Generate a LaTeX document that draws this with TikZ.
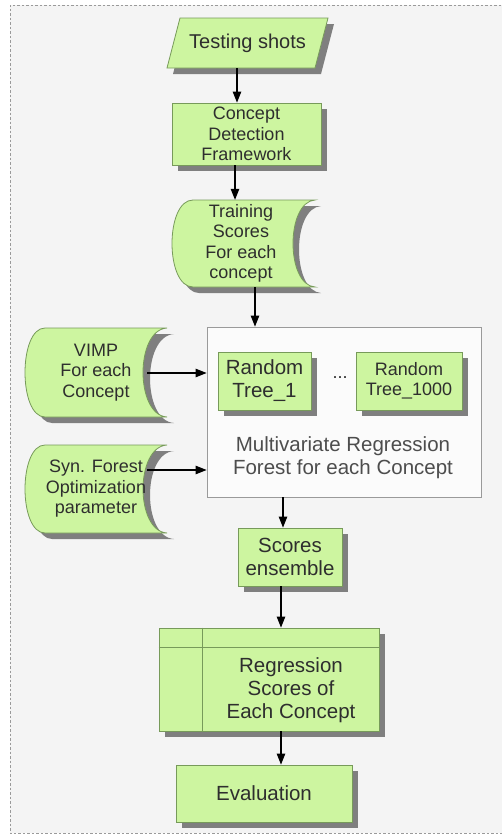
\documentclass[tikz,border=0pt]{standalone}
\usepackage{fontspec}
\setmainfont{Liberation Sans}
\usetikzlibrary{arrows.meta,shadows}
\definecolor{bgc}{HTML}{F4F4F4}
\definecolor{gfill}{HTML}{CDF5A0}
\definecolor{gdraw}{HTML}{779A5A}
\definecolor{shc}{HTML}{7F7F7F}
\definecolor{txt}{HTML}{2E2E2E}
\definecolor{fbord}{HTML}{9A9A9A}
\newcommand\storedshape[6]{%
  (#1+#5,#2) -- (#3,#2) .. controls (#3-1.333*#6,#2+2) and (#3-1.333*#6,#4-2) .. (#3,#4)
  -- (#1+#5,#4) .. controls (#1-0.333*#5,#4) and (#1-0.333*#5,#2) .. (#1+#5,#2) -- cycle}
\tikzset{
  big/.style={font=\fontsize{20.5}{23}\selectfont},
  small/.style={font=\fontsize{18}{20.5}\selectfont},
  txtnode/.style={text=txt, align=center, inner sep=0pt},
  gbox/.style={draw=gdraw, fill=gfill, line width=0.8pt, inner sep=0pt, text=txt, align=center,
    drop shadow={opacity=1, fill=shc, shadow xshift=6pt, shadow yshift=-6pt}},
  arr/.style={-{Triangle[length=11pt,width=8.5pt]}, line width=1.1pt, black},
  gshape/.style={draw=gdraw, fill=gfill, line width=0.8pt},
}
\begin{document}
\begin{tikzpicture}[x=1pt,y=-1pt]
\useasboundingbox (0,0) rectangle (502,835);
\fill[white] (0,0) rectangle (502,835);
\fill[bgc] (10,5) rectangle (510,833);
\draw[fbord, dash pattern=on 2.5pt off 2pt, line width=0.8pt] (510,5) -- (10,5) -- (10,833) -- (510,833);

% Testing shots (parallelogram)
\fill[shc] (180+6,18+6) -- (328+6,18+6) -- (315+6,68+6) -- (167+6,68+6) -- cycle;
\draw[gshape] (180,18) -- (328,18) -- (315,68) -- (167,68) -- cycle;
\node[txtnode, font=\fontsize{20}{23}\selectfont, minimum width=161pt, minimum height=50pt] (test) at (247.5,43) {Testing shots};

% Concept Detection Framework
\node[gbox, small, minimum width=149pt, minimum height=62pt] (cdf) at (246.5,134) {Concept\\Detection\\Framework};

% Training scores (stored data)
\fill[shc] \storedshape{172+6}{200+6}{315+6}{287+6}{21}{22};
\draw[gshape] \storedshape{172}{200}{315}{287}{21}{22};
\node[txtnode, small, minimum width=138pt, minimum height=87pt] (ts) at (241,243.5) {Training\\Scores\\For each\\concept};

% VIMP
\fill[shc] \storedshape{25+7}{328+6}{167+7}{417+6}{20}{24};
\draw[gshape] \storedshape{25}{328}{167}{417}{20}{24};
\node[txtnode, small, minimum width=142pt, minimum height=89pt] (vimp) at (96,372.5) {VIMP\\For each\\Concept};

% Syn forest
\fill[shc] \storedshape{25+7}{445+6}{167+7}{533+6}{20}{24};
\draw[gshape] \storedshape{25}{445}{167}{533}{20}{24};
\node[txtnode, small, minimum width=142pt, minimum height=88pt] (syn) at (96,489) {Syn. Forest\\Optimization\\parameter};

% Forest container
\node[draw=fbord, fill=white!60!bgc, line width=0.8pt, minimum width=274pt, minimum height=170pt, inner sep=0pt] (forest) at (344,412) {};
\node[gbox, big, minimum width=93pt, minimum height=58pt] (rt1) at (264.5,381) {Random\\Tree\_1};
\node[gbox, small, minimum width=106pt, minimum height=58pt] (rt2) at (409,381) {Random\\Tree\_1000};
\node[txtnode, small] (dots) at (340,378) {...};
\node[txtnode, big, text=txt!85!white] (ml) at (343,458) {Multivariate Regression\\Forest for each Concept};

% Scores ensemble
\node[gbox, big, minimum width=104pt, minimum height=58pt] (se) at (290,557) {Scores\\ensemble};

% Regression scores
\node[gbox, minimum width=220pt, minimum height=103pt] (reg) at (269,679.5) {};
\draw[gdraw, line width=0.8pt] ([xshift=44pt]reg.north west) -- ([xshift=44pt]reg.south west);
\draw[gdraw, line width=0.8pt] ([yshift=-20pt]reg.north west) -- ([yshift=-20pt]reg.north east);
\node[txtnode, big] (regt) at (291,690) {Regression\\Scores of\\Each Concept};

% Evaluation
\node[gbox, big, minimum width=176pt, minimum height=57pt] (eval) at (264,793.5) {Evaluation};

% connectors
\coordinate (a1) at (237,68);
\draw[arr] (a1) -- (a1 |- cdf.north);
\coordinate (a2) at (235,165);
\draw[arr] (a2) -- (a2 |- ts.north);
\coordinate (a3) at (255,287);
\draw[arr] (a3) -- (a3 |- forest.north);
\coordinate (a4) at (147,373);
\draw[arr] (a4) -- (a4 -| forest.west);
\coordinate (a5) at (147,470);
\draw[arr] (a5) -- (a5 -| forest.west);
\coordinate (a6) at (283,497);
\draw[arr] (a6) -- (a6 |- se.north);
\coordinate (a7) at (281,586);
\draw[arr] (a7) -- (a7 |- reg.north);
\coordinate (a8) at (281,731);
\draw[arr] (a8) -- (a8 |- eval.north);
\end{tikzpicture}
\end{document}
